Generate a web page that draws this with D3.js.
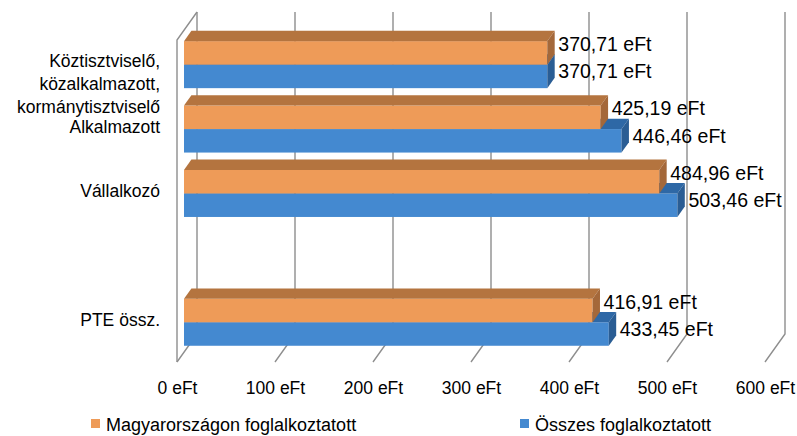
<!DOCTYPE html>
<html>
<head>
<meta charset="utf-8">
<script src="https://cdn.jsdelivr.net/npm/d3@7"></script>
<style>
  html, body { margin: 0; padding: 0; background: #fff; }
  text { font-family: "Liberation Sans", Arial, sans-serif; fill: #000; }
</style>
</head>
<body>
<svg id="chart" width="797" height="436"></svg>
<script>
// ---- data ----
const categories = ["Köztisztviselő, közalkalmazott, kormánytisztviselő", "Alkalmazott", "Vállalkozó", "", "PTE össz."];
const categoryLines = [["Köztisztviselő,", "közalkalmazott,", "kormánytisztviselő"], ["Alkalmazott"], ["Vállalkozó"], [], ["PTE össz."]];
const seriesNames = ["Magyarországon foglalkoztatott", "Összes foglalkoztatott"];
const magyarValues = [370.71, 425.19, 484.96, null, 416.91];
const osszesValues = [370.71, 446.46, 503.46, null, 433.45];
const tickValues = [0, 100, 200, 300, 400, 500, 600];
const seriesColors = [
  { front: "#EE9B58", top: "#B4743F", side: "#A4683A" },
  { front: "#4489D0", top: "#2E68A6", side: "#2A5D94" }
];

// ---- layout ----
const svg = d3.select("#chart");
const x = d3.scaleLinear().domain([0, 600]).range([177, 765]);
const y = d3.scaleBand().domain(d3.range(categories.length)).range([40, 362]).padding(0);
const step = y.step();
const s = d3.scaleBand().domain(seriesNames).range([0.17 * step, 0.9 * step]).padding(0);
const DX = 20, DY = -28;       // full depth vector
const f0 = 0.35, f1 = 0.72;    // bar depth fraction
const ox = DX * f0, oy = DY * f0;
const ddx = DX * (f1 - f0), ddy = DY * (f1 - f0);
const floorY = 362;

const locale = d3.formatLocale({ decimal: ",", thousands: " ", grouping: [3], currency: ["", ""] });
const fmt2 = locale.format(".2f");

// ---- grid / walls ----
const grid = svg.append("g").attr("stroke", "#8e8e8e").attr("stroke-width", 1.4).attr("fill", "none");
tickValues.forEach(t => {
  const px = x(t);
  grid.append("path").attr("d", `M${px},${floorY}L${px + DX},${floorY + DY}L${px + DX},12`);
});
grid.append("path").attr("d", `M${x(0)},${floorY}L${x(0)},40L${x(0) + DX},12`);

// ---- bars ----
const seriesData = [magyarValues, osszesValues];
const bars = svg.append("g");
function box(g, v, yt, yb, c) {
  const X0 = x(0) + ox, X1 = x(v) + ox, Y0 = yt + oy, Y1 = yb + oy;
  g.append("rect").attr("x", X0).attr("y", Y0).attr("width", X1 - X0).attr("height", Y1 - Y0).attr("fill", c.front);
  g.append("path").attr("d", `M${X0},${Y0}L${X1},${Y0}L${X1 + ddx},${Y0 + ddy}L${X0 + ddx},${Y0 + ddy}Z`).attr("fill", c.top);
  g.append("path").attr("d", `M${X1},${Y0}L${X1 + ddx},${Y0 + ddy}L${X1 + ddx},${Y1 + ddy}L${X1},${Y1}Z`).attr("fill", c.side);
}
categories.forEach((cat, i) => {
  for (let k = seriesNames.length - 1; k >= 0; k--) {
    const v = seriesData[k][i];
    if (v == null) continue;
    const yt = y(i) + s(seriesNames[k]);
    box(bars, v, yt, yt + s.bandwidth(), seriesColors[k]);
  }
});

// ---- data labels ----
const labels = svg.append("g").attr("font-size", "19.5px");
categories.forEach((cat, i) => {
  seriesNames.forEach((name, k) => {
    const v = seriesData[k][i];
    if (v == null) return;
    const yc = y(i) + s(name) + s.bandwidth() / 2 + oy - 5 - (k === 0 ? 4 : 0);
    labels.append("text")
      .attr("x", x(v) + ox + 11)
      .attr("y", yc)
      .attr("dominant-baseline", "central")
      .text(fmt2(v) + " eFt");
  });
});

// ---- category labels ----
const cl = svg.append("g").attr("font-size", "17.5px").attr("text-anchor", "end");
categoryLines.forEach((lines, i) => {
  const yc = y(i) + step / 2 + oy;
  lines.forEach((ln, j) => {
    cl.append("text").attr("x", 160).attr("y", yc - (lines.length > 1 ? 1.5 : 0) + j * 23)
      .attr("dominant-baseline", "central").text(ln);
  });
});

// ---- value axis ----
const axis = d3.axisBottom(x).tickValues(tickValues).tickSize(0).tickPadding(0)
  .tickFormat(d => d + " eFt");
const ag = svg.append("g").attr("transform", "translate(0,382)").call(axis);
ag.select(".domain").remove();
ag.selectAll("text").attr("font-size", "17.5px").attr("font-family", "Liberation Sans, Arial, sans-serif").attr("fill", "#000");

// ---- legend ----
const legendX = [91, 520];
const lg = svg.append("g").attr("font-size", "18px");
seriesNames.forEach((name, k) => {
  lg.append("rect").attr("x", legendX[k]).attr("y", 419).attr("width", 9).attr("height", 9).attr("fill", seriesColors[k].front);
  lg.append("text").attr("x", legendX[k] + 15).attr("y", 425).attr("dominant-baseline", "central").text(name);
});
</script>
</body>
</html>
